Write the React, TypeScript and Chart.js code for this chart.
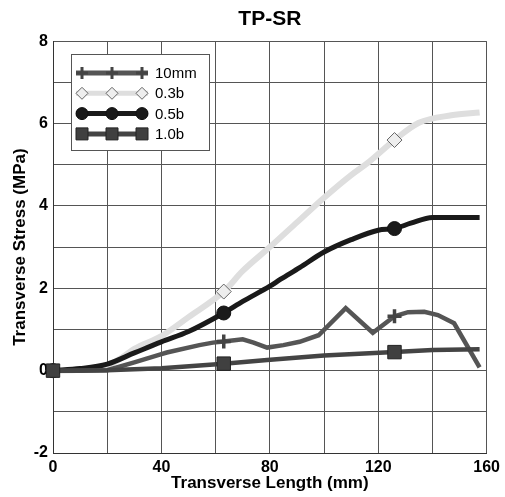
import React, { useEffect, useRef } from 'react';
import { Chart, registerables } from 'chart.js';

Chart.register(...registerables);

const FONT = "'Liberation Sans', Arial, Helvetica, sans-serif";

// Positions (mm) where markers are shown on each curve
const MARKER_X = [0, 63, 126];

const X_TICK_LABELS = [0, 40, 80, 120, 160];
const Y_TICK_LABELS = [-2, 0, 2, 4, 6, 8];

// 10mm series
const x10mm = [0, 10, 20, 30, 40, 42, 54, 59, 63, 70, 74, 79, 85, 91, 98, 108, 118, 126, 131, 137, 142, 148, 157.4];
const y10mm = [0, 0, 0.01, 0.2, 0.4, 0.44, 0.62, 0.68, 0.71, 0.76, 0.68, 0.56, 0.62, 0.7, 0.86, 1.52, 0.92, 1.32, 1.42, 1.43, 1.35, 1.15, 0.08];

// 0.3b series
const x03b = [0, 10, 20, 25, 30, 40, 50, 63, 70, 80, 90, 100, 110, 116, 126, 135, 147, 157.4];
const y03b = [0, 0.02, 0.12, 0.3, 0.53, 0.84, 1.3, 1.92, 2.42, 3.0, 3.6, 4.2, 4.75, 5.04, 5.6, 6.02, 6.2, 6.27];

// 0.5b series
const x05b = [0, 10, 20, 30, 40, 50, 63, 70, 80, 84, 91, 100, 110, 120, 126, 132, 140, 157.4];
const y05b = [0, 0.05, 0.16, 0.43, 0.7, 0.95, 1.4, 1.68, 2.05, 2.22, 2.5, 2.88, 3.18, 3.41, 3.45, 3.58, 3.72, 3.72];

// 1.0b series
const x10b = [0, 20, 40, 63, 79, 100, 126, 140, 157.4];
const y10b = [0, 0.01, 0.06, 0.17, 0.26, 0.37, 0.45, 0.5, 0.52];

const toPoints = (xs: number[], ys: number[]) => xs.map((x, i) => ({ x, y: ys[i] }));

type MarkerStyle = 'cross' | 'rectRot' | 'circle' | 'rect';

function drawMarker(
  ctx: CanvasRenderingContext2D,
  style: MarkerStyle,
  x: number,
  y: number,
  s: number,
  fill: string,
  stroke: string,
  lw: number
) {
  ctx.save();
  ctx.beginPath();
  ctx.fillStyle = fill;
  ctx.strokeStyle = stroke;
  ctx.lineWidth = lw;
  if (style === 'cross') {
    ctx.moveTo(x - s, y);
    ctx.lineTo(x + s, y);
    ctx.moveTo(x, y - s);
    ctx.lineTo(x, y + s);
    ctx.stroke();
  } else if (style === 'rectRot') {
    ctx.moveTo(x - s, y);
    ctx.lineTo(x, y - s);
    ctx.lineTo(x + s, y);
    ctx.lineTo(x, y + s);
    ctx.closePath();
    ctx.fill();
    ctx.stroke();
  } else if (style === 'circle') {
    ctx.arc(x, y, s, 0, Math.PI * 2);
    ctx.fill();
    ctx.stroke();
  } else {
    ctx.rect(x - s, y - s, 2 * s, 2 * s);
    ctx.fill();
    ctx.stroke();
  }
  ctx.restore();
}

const boxLegend = {
  id: 'boxLegend',
  afterDraw(chart: any) {
    const ctx: CanvasRenderingContext2D = chart.ctx;
    const { left, top } = chart.chartArea;
    const bx = Math.round(left + 18);
    const by = Math.round(top + 13);
    const bw = 138;
    const bh = 96;
    ctx.save();
    ctx.fillStyle = '#ffffff';
    ctx.fillRect(bx, by, bw, bh);
    ctx.strokeStyle = '#555555';
    ctx.lineWidth = 1;
    ctx.strokeRect(bx + 0.5, by + 0.5, bw, bh);
    chart.data.datasets.forEach((ds: any, i: number) => {
      const y = by + 19 + i * 20.3;
      ctx.beginPath();
      ctx.strokeStyle = ds.borderColor;
      ctx.lineWidth = 5;
      ctx.moveTo(bx + 5, y);
      ctx.lineTo(bx + 77, y);
      ctx.stroke();
      const st = ds.legendMarker as MarkerStyle;
      const size = st === 'rect' ? 6 : st === 'cross' ? 6 : 6;
      [bx + 11, bx + 41, bx + 71].forEach((mx) =>
        drawMarker(ctx, st, mx, y, size, ds.pointBackgroundColor, ds.pointBorderColor, st === 'cross' ? 3 : 1)
      );
      ctx.fillStyle = '#000000';
      ctx.font = `15px ${FONT}`;
      ctx.textBaseline = 'middle';
      ctx.textAlign = 'left';
      ctx.fillText(ds.label, bx + 84, y + 1);
    });
    ctx.restore();
  },
};

const markerRadius = (r: number) => (c: any) => (c.raw && MARKER_X.includes(c.raw.x) ? r : 0);

export default function App() {
  const canvasRef = useRef<HTMLCanvasElement | null>(null);

  useEffect(() => {
    document.body.style.margin = '0';
    const canvas = canvasRef.current;
    if (!canvas) return;
    const chart = new Chart(canvas, {
      type: 'line',
      data: {
        datasets: [
          {
            label: '10mm',
            data: toPoints(x10mm, y10mm),
            borderColor: '#555555',
            borderWidth: 4.5,
            tension: 0,
            pointStyle: 'cross',
            pointRadius: markerRadius(7),
            pointBorderWidth: 3.5,
            pointBackgroundColor: '#444444',
            pointBorderColor: '#444444',
            legendMarker: 'cross',
            order: 2,
            clip: false,
          } as any,
          {
            label: '0.3b',
            data: toPoints(x03b, y03b),
            borderColor: '#dedede',
            borderWidth: 6,
            cubicInterpolationMode: 'monotone',
            pointStyle: 'rectRot',
            pointRadius: markerRadius(7.5),
            pointBorderWidth: 1,
            pointBackgroundColor: '#eeeeee',
            pointBorderColor: '#666666',
            legendMarker: 'rectRot',
            order: 4,
            clip: false,
          } as any,
          {
            label: '0.5b',
            data: toPoints(x05b, y05b),
            borderColor: '#1a1a1a',
            borderWidth: 5,
            cubicInterpolationMode: 'monotone',
            pointStyle: 'circle',
            pointRadius: markerRadius(7),
            pointBorderWidth: 1,
            pointBackgroundColor: '#1a1a1a',
            pointBorderColor: '#111111',
            legendMarker: 'circle',
            order: 3,
            clip: false,
          } as any,
          {
            label: '1.0b',
            data: toPoints(x10b, y10b),
            borderColor: '#444444',
            borderWidth: 4.5,
            tension: 0,
            pointStyle: 'rect',
            pointRadius: markerRadius(9.5),
            pointBorderWidth: 1,
            pointBackgroundColor: '#404040',
            pointBorderColor: '#222222',
            legendMarker: 'rect',
            order: 1,
            clip: false,
          } as any,
        ],
      },
      options: {
        responsive: false,
        animation: false,
        devicePixelRatio: 1,
        events: [],
        layout: { padding: { left: 0, right: 18, top: 0, bottom: 0 } },
        plugins: {
          legend: { display: false },
          tooltip: { enabled: false },
          title: {
            display: true,
            text: 'TP-SR',
            fullSize: false,
            color: '#000000',
            font: { family: FONT, size: 21, weight: 'bold' },
            padding: { top: 7, bottom: 9 },
          },
        },
        scales: {
          x: {
            type: 'linear',
            min: 0,
            max: 160,
            afterFit: (s: any) => {
              s.height = 44;
            },
            ticks: {
              stepSize: 20,
              autoSkip: false,
              maxRotation: 0,
              padding: 5,
              color: '#000000',
              font: { family: FONT, size: 16, weight: 'bold' },
              callback: (v: any) => (X_TICK_LABELS.includes(Number(v)) ? String(v) : ''),
            },
            grid: { color: '#555555', lineWidth: 1, drawTicks: false },
            border: { color: '#333333', width: 1 },
            title: {
              display: true,
              text: 'Transverse Length (mm)',
              color: '#000000',
              font: { family: FONT, size: 17, weight: 'bold' },
              padding: { top: 0, bottom: 3 },
            },
          },
          y: {
            type: 'linear',
            min: -2,
            max: 8,
            afterFit: (s: any) => {
              s.width = 53;
            },
            ticks: {
              stepSize: 1,
              autoSkip: false,
              padding: 5,
              color: '#000000',
              font: { family: FONT, size: 16, weight: 'bold' },
              callback: (v: any) => (Y_TICK_LABELS.includes(Number(v)) ? String(v) : ''),
            },
            grid: { color: '#555555', lineWidth: 1, drawTicks: false },
            border: { color: '#333333', width: 1 },
            title: {
              display: true,
              text: 'Transverse Stress (MPa)',
              color: '#000000',
              font: { family: FONT, size: 17, weight: 'bold' },
              padding: { top: 10, bottom: 0 },
            },
          },
        },
      } as any,
      plugins: [boxLegend],
    });
    return () => chart.destroy();
  }, []);

  return (
    <div style={{ width: 505, height: 497 }}>
      <canvas ref={canvasRef} width={505} height={497} style={{ display: 'block' }} />
    </div>
  );
}
